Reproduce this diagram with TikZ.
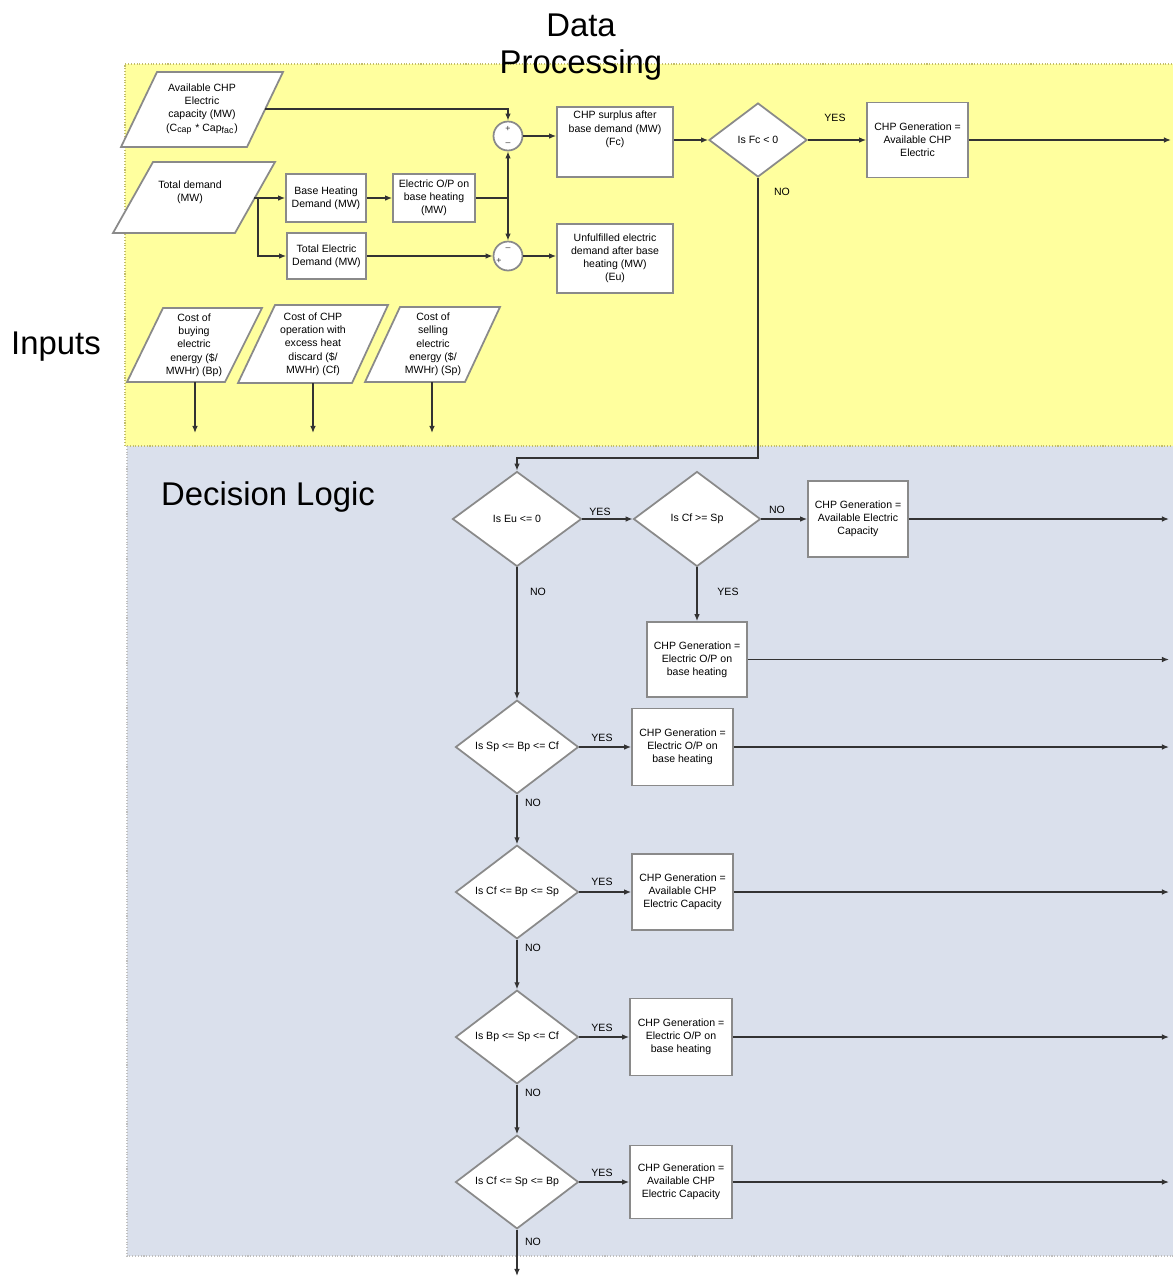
\documentclass[tikz,border=0pt]{standalone}
\usepackage{fontspec}
\setmainfont{Liberation Sans}
\usetikzlibrary{shapes.geometric,arrows.meta,calc}
\definecolor{yel}{HTML}{FFFF9E}
\definecolor{blu}{HTML}{DAE0EC}
\definecolor{bord}{HTML}{8A8A8A}
\definecolor{ln}{HTML}{333333}
\tikzset{
 txt/.style={font=\fontsize{6}{7.4}\selectfont, align=center, inner sep=0pt},
 intxt/.style={font=\fontsize{6}{7.6}\selectfont, align=center, inner sep=0pt},
 box/.style={txt, draw=bord, line width=1pt, fill=white, rectangle, inner sep=1pt},
 dia/.style={txt, draw=bord, line width=1pt, fill=white, diamond, inner sep=0pt},
 para/.style={draw=bord, line width=1pt, fill=white},
 sumc/.style={draw=bord, line width=1pt, fill=white, circle, minimum size=0.58cm, inner sep=0pt},
 con/.style={draw=ln, line width=0.75pt},
 arr/.style={con, -{Latex[length=4pt,width=3.2pt]}},
 lab/.style={font=\fontsize{6}{7}\selectfont, inner sep=0pt},
 sign/.style={font=\fontsize{5}{5}\selectfont, text=ln, inner sep=0pt},
 big/.style={font=\fontsize{18.7}{21}\selectfont, align=center, inner sep=0pt},
}
\begin{document}
\begin{tikzpicture}[x=0.02cm,y=-0.02cm]
\useasboundingbox (0,0) rectangle (1173,1279);
% regions
\fill[yel] (125,64) rectangle (1173,446);
\fill[blu] (127,446) rectangle (1173,1256);
\draw[densely dotted, draw=yellow!45!gray, line width=0.6pt] (125,446) -- (125,64) -- (1173,64);
\draw[densely dotted, draw=yellow!45!gray, line width=0.6pt] (127,446) -- (1173,446);
\draw[densely dotted, draw=gray!50, line width=0.6pt] (127,446) -- (127,1256) -- (1173,1256);

% headings
\node[big] (title) at (581,47) {Data\\Processing};
\node[big] (inputs) at (56,347) {Inputs};
\node[big] (declog) at (268,497) {Decision Logic};

% input parallelograms
\draw[para] (157,72) -- (283,72) -- (247,147) -- (121,147) -- cycle;
\node[intxt] (in1) at (202,109) {Available CHP\\Electric\\capacity (MW)\\(C\textsubscript{cap} * Cap\textsubscript{fac})};
\coordinate (in1r) at (265,109);

\draw[para] (153,162) -- (275,162) -- (235,233) -- (113,233) -- cycle;
\node[intxt] (in2) at (190,192) {Total demand\\(MW)};
\coordinate (in2r) at (254,198);
\coordinate (br) at (258,198);

\draw[para] (163,308) -- (262,308) -- (225,382) -- (127,382) -- cycle;
\node[intxt] (in3) at (194,345) {Cost of\\buying\\electric\\energy (\$/\\MWHr) (Bp)};
\coordinate (in3b) at (195,382);
\coordinate (in3o) at (195,433);

\draw[para] (275,305) -- (388,305) -- (352,383) -- (238,383) -- cycle;
\node[intxt] (in4) at (313,344) {Cost of CHP\\operation with\\excess heat\\discard (\$/\\MWHr) (Cf)};
\coordinate (in4b) at (313,383);
\coordinate (in4o) at (313,433);

\draw[para] (400,307) -- (500,307) -- (465,382) -- (365,382) -- cycle;
\node[intxt] (in5) at (433,344.5) {Cost of\\selling\\electric\\energy (\$/\\MWHr) (Sp)};
\coordinate (in5b) at (432,382);
\coordinate (in5o) at (432,433);

% data processing boxes
\node[box, minimum width=1.6cm, minimum height=0.96cm] (bhd) at (326,198) {Base Heating\\Demand (MW)};
\node[box, minimum width=1.64cm, minimum height=0.96cm] (eop) at (434,198) {Electric O/P on\\base heating\\(MW)};
\node[box, minimum width=1.58cm, minimum height=0.92cm] (ted) at (326.5,256) {Total Electric\\Demand (MW)};

\node[sumc] (s1) at (508,136) {};
\node[sign] (s1p) at (508,129) {+};
\node[sign] (s1m) at (508,144) {--};
\node[sumc] (s2) at (508,256) {};
\node[sign] (s2m) at (508,249) {--};
\node[sign] (s2p) at (499,261) {+};
\coordinate (jn) at (508,198);

\node[box, minimum width=2.32cm, minimum height=1.4cm] (sur) at (615,142) {};
\node[txt, anchor=north] (surt) at (615,111) {CHP surplus after\\base demand (MW)\\(Fc)};
\node[box, minimum width=2.32cm, minimum height=1.38cm] (unf) at (615,258.5) {Unfulfilled electric\\demand after base\\heating (MW)\\(Eu)};

\node[dia, minimum width=1.96cm, minimum height=1.48cm] (dFc) at (758,140) {Is Fc < 0};
\node[box, minimum width=2.02cm, minimum height=1.5cm] (gen1) at (917.5,140) {CHP Generation =\\Available CHP\\Electric};
\coordinate (o1) at (1171,140);
\coordinate (fcb) at (758,458);

% data processing connectors
\draw[arr] (in1r) -| (s1.north);
\draw[arr] (in2r) -- (bhd.west);
\draw[arr] (br) |- (ted.west);
\draw[arr] (bhd.east) -- (eop.west);
\draw[con] (eop.east) -- (jn);
\draw[arr] (jn) -- (s1.south);
\draw[arr] (jn) -- (s2.north);
\draw[arr] (ted.east) -- (s2.west);
\draw[arr] (s1.east) -- (s1.east -| sur.west);
\draw[arr] (s2.east) -- (s2.east -| unf.west);
\draw[arr] (sur.east |- dFc.west) -- (dFc.west);
\draw[arr] (dFc.east) -- (gen1.west);
\draw[arr] (gen1.east) -- (o1);
\draw[arr] (in3b) -- (in3o);
\draw[arr] (in4b) -- (in4o);
\draw[arr] (in5b) -- (in5o);
\node[lab] (lyes0) at (835,118) {YES};
\node[lab] (lno0) at (782,192) {NO};

% decision logic
\node[dia, minimum width=2.58cm, minimum height=1.9cm] (dEu) at (517,519) {Is Eu <= 0};
\node[dia, minimum width=2.54cm, minimum height=1.9cm] (dCf) at (697,519) {Is Cf >= Sp};
\node[box, minimum width=2.0cm, minimum height=1.52cm] (gA) at (858,519) {CHP Generation =\\Available Electric\\Capacity};
\node[box, minimum width=2.0cm, minimum height=1.5cm] (gB) at (697,659.5) {CHP Generation =\\Electric O/P on\\base heating};

\node[dia, minimum width=2.46cm, minimum height=1.8cm] (d3) at (517,747) {Is Sp <= Bp <= Cf};
\node[box, minimum width=2.02cm, minimum height=1.54cm] (g3) at (682.5,747) {CHP Generation =\\Electric O/P on\\base heating};
\node[dia, minimum width=2.46cm, minimum height=1.8cm] (d4) at (517,892) {Is Cf <= Bp <= Sp};
\node[box, minimum width=2.02cm, minimum height=1.52cm] (g4) at (682.5,892) {CHP Generation =\\Available CHP\\Electric Capacity};
\node[dia, minimum width=2.46cm, minimum height=1.8cm] (d5) at (517,1037) {Is Bp <= Sp <= Cf};
\node[box, minimum width=2.04cm, minimum height=1.54cm] (g5) at (681,1037) {CHP Generation =\\Electric O/P on\\base heating};
\node[dia, minimum width=2.46cm, minimum height=1.8cm] (d6) at (517,1182) {Is Cf <= Sp <= Bp};
\node[box, minimum width=2.04cm, minimum height=1.46cm] (g6) at (681,1182) {CHP Generation =\\Available CHP\\Electric Capacity};

\coordinate (oA) at (1169,519);
\coordinate (oB) at (1169,659.5);
\coordinate (o3) at (1169,747);
\coordinate (o4) at (1169,892);
\coordinate (o5) at (1169,1037);
\coordinate (o6) at (1169,1182);
\coordinate (oend) at (517,1276);

\draw[arr] (dFc.south) -- (fcb) -| (dEu.north);
\draw[arr] (dEu.east) -- (dCf.west);
\draw[arr] (dCf.east) -- (gA.west);
\draw[arr] (gA.east) -- (oA);
\draw[arr] (dCf.south) -- (gB.north);
\draw[arr] (gB.east) -- (oB);
\draw[arr] (dEu.south) -- (d3.north);
\draw[arr] (d3.east) -- (g3.west);
\draw[arr] (g3.east) -- (o3);
\draw[arr] (d3.south) -- (d4.north);
\draw[arr] (d4.east) -- (g4.west);
\draw[arr] (g4.east) -- (o4);
\draw[arr] (d4.south) -- (d5.north);
\draw[arr] (d5.east) -- (g5.west);
\draw[arr] (g5.east) -- (o5);
\draw[arr] (d5.south) -- (d6.north);
\draw[arr] (d6.east) -- (g6.west);
\draw[arr] (g6.east) -- (o6);
\draw[arr] (d6.south) -- (oend);

\node[lab] (ly1) at (600,512) {YES};
\node[lab] (ln1) at (538,592) {NO};
\node[lab] (ln2) at (777,510) {NO};
\node[lab] (ly2) at (728,592) {YES};
\node[lab] (ly3) at (602,738) {YES};
\node[lab] (ln3) at (533,803) {NO};
\node[lab] (ly4) at (602,882) {YES};
\node[lab] (ln4) at (533,948) {NO};
\node[lab] (ly5) at (602,1028) {YES};
\node[lab] (ln5) at (533,1093) {NO};
\node[lab] (ly6) at (602,1173) {YES};
\node[lab] (ln6) at (533,1242) {NO};
\end{tikzpicture}
\end{document}
